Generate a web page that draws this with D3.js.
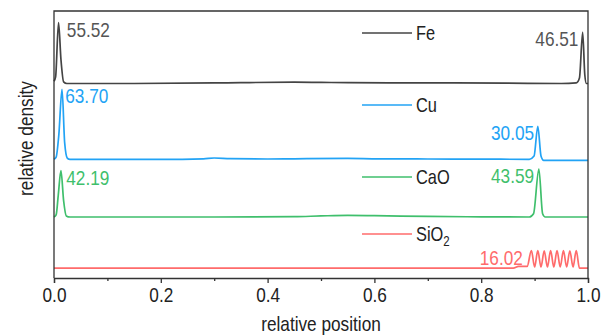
<!DOCTYPE html>
<html>
<head>
<meta charset="utf-8">
<script src="https://cdn.jsdelivr.net/npm/d3@7"></script>
<style>
  body { margin: 0; background: #fff; }
  svg text { font-family: "Liberation Sans", Arial, sans-serif; }
</style>
</head>
<body>
<svg width="610" height="335"></svg>
<script>
// series names, colours and peak labels
const names = ["Fe", "Cu", "CaO", "SiO2"];
const colors = ["#444444", "#22a3f5", "#3fbf6c", "#ff6b6b"];
// vertical offset of each curve (density units)
const offsets = [177, 108, 55.5, 9];

// [relative position, relative density]
const fe = [[0, 2], [0.003, 6], [0.0085, 55.52], [0.013, 22], [0.018, 1.5], [0.024, 0], [0.15, 0], [0.3, 0.5],
  [0.35, 0.8], [0.45, 1.2], [0.5, 1.0], [0.55, 0.8], [0.65, 0.6], [0.75, 0.5], [0.85, 0.3], [0.95, 0],
  [0.978, 0.5], [0.984, 5], [0.99, 46.51], [0.994, 8], [0.997, 0], [1.0, 0]];
const cu = [[0, 0], [0.004, 2], [0.009, 22], [0.015, 63.70], [0.02, 15], [0.025, 1], [0.03, 0], [0.2, 0],
  [0.28, 0.5], [0.3, 1.2], [0.33, 0.6], [0.4, 0.3], [0.45, 0.5], [0.55, 0.8], [0.6, 0.5], [0.7, 0.3],
  [0.8, 0.2], [0.89, 0], [0.899, 3], [0.906, 30.05], [0.912, 3], [0.917, -1], [1.0, -1]];
const cao = [[0, 0], [0.004, 2], [0.008, 20], [0.013, 42.19], [0.018, 15], [0.023, 1], [0.03, 0], [0.3, 0],
  [0.45, 0.3], [0.5, 1], [0.55, 1.5], [0.6, 1.2], [0.65, 0.8], [0.7, 0.5], [0.8, 0.2], [0.89, 0],
  [0.898, 3], [0.908, 43.59], [0.915, 3], [0.92, 0], [1.0, 0]];
const sio2 = [[0, 0], [0.86, 0], [0.87, 1.5], [0.886, 1.5], [0.894, 16.02], [0.9, 1], [0.906, 16], [0.912, 1],
  [0.918, 15.8], [0.924, 1], [0.93, 16], [0.936, 1], [0.942, 15.9], [0.948, 1], [0.954, 16.02], [0.96, 1],
  [0.966, 15.8], [0.972, 1], [0.978, 16], [0.984, 0], [1.0, 0]];
const seriesData = [fe, cu, cao, sio2];

// peak labels: [series index, x of anchor, value, side]
const peakLabels = [
  [0, 0.024, "55.52", "start"], [0, 0.982, "46.51", "end"],
  [1, 0.021, "63.70", "start"], [1, 0.899, "30.05", "end"],
  [2, 0.023, "42.19", "start"], [2, 0.899, "43.59", "end"],
  [3, 0.878, "16.02", "end"]
];
const xTicks = [0, 0.2, 0.4, 0.6, 0.8, 1.0];
const xMinor = [0.1, 0.3, 0.5, 0.7, 0.9];

const svg = d3.select("svg");
const margin = {top: 11, right: 22, bottom: 57, left: 54};
const width = 610 - margin.left - margin.right;
const height = 335 - margin.top - margin.bottom;

const x = d3.scaleLinear().domain([0, 1]).range([margin.left, margin.left + width]);
const y = d3.scaleLinear().domain([0, 243]).range([margin.top + height, margin.top]);

// the original uses a narrow sans face, so squeeze text horizontally
const narrow = 0.82;
function squeeze(sel, extra) {
  sel.each(function () {
    const t = d3.select(this);
    const tx = +t.attr("x") || 0, ty = +t.attr("y") || 0;
    t.attr("x", 0).attr("y", 0)
      .attr("transform", `translate(${tx},${ty}) ${extra || ""} scale(${narrow},1)`);
  });
}

const line = d3.line()
  .x(d => x(d[0]))
  .y(d => y(d[1]))
  .curve(d3.curveMonotoneX);

// curves
svg.append("g")
  .selectAll("path")
  .data(seriesData)
  .join("path")
  .attr("fill", "none")
  .attr("stroke", (d, i) => colors[i])
  .attr("stroke-width", 1.7)
  .attr("d", (d, i) => line(d.map(p => [p[0], p[1] + offsets[i]])));

// peak labels
svg.append("g")
  .selectAll("text")
  .data(peakLabels)
  .join("text")
  .attr("x", d => x(d[1]))
  .attr("y", d => y(offsets[d[0]] + +d[2]) + 14)
  .attr("text-anchor", d => d[3])
  .attr("font-size", 21)
  .attr("fill", d => d[0] === 0 ? "#555" : colors[d[0]])
  .text(d => d[2])
  .call(squeeze);

// legend
const legendY = [33, 105, 177, 234];
const legend = svg.append("g")
  .selectAll("g")
  .data(names)
  .join("g")
  .attr("transform", (d, i) => `translate(362,${legendY[i]})`);
legend.append("line")
  .attr("x1", 0).attr("x2", 50)
  .attr("stroke", (d, i) => colors[i])
  .attr("stroke-width", 1.6);
legend.append("text")
  .attr("x", 54)
  .attr("y", 7)
  .attr("font-size", 20)
  .attr("fill", "#222")
  .each(function (d) {
    const t = d3.select(this);
    if (d === "SiO2") {
      t.append("tspan").text("SiO");
      t.append("tspan").attr("font-size", 14).attr("dy", 5).text("2");
    } else {
      t.text(d);
    }
  })
  .call(squeeze);

// axes
const xAxis = svg.append("g")
  .attr("transform", `translate(0,${margin.top + height})`)
  .call(d3.axisBottom(x).tickValues(xTicks).tickFormat(d3.format(".1f")).tickSize(5).tickPadding(4));
xAxis.selectAll("text")
  .attr("font-size", 21)
  .attr("fill", "#222")
  .attr("transform", `scale(${narrow},1)`);
svg.append("g")
  .attr("transform", `translate(0,${margin.top + height})`)
  .call(d3.axisBottom(x).tickValues(xMinor).tickFormat("").tickSize(3))
  .select(".domain").remove();
svg.selectAll(".tick line, .domain").attr("stroke", "#333").attr("stroke-width", 1.3);

// frame: left, top, right
svg.append("path")
  .attr("d", `M${margin.left},${margin.top + height}V${margin.top}H${margin.left + width}V${margin.top + height}`)
  .attr("fill", "none")
  .attr("stroke", "#333")
  .attr("stroke-width", 1.3);

// axis titles
svg.append("text")
  .attr("x", margin.left + width / 2)
  .attr("y", 331)
  .attr("text-anchor", "middle")
  .attr("font-size", 21)
  .attr("fill", "#222")
  .text("relative position")
  .call(squeeze);
svg.append("text")
  .attr("x", 33)
  .attr("y", margin.top + height / 2 - 6)
  .attr("text-anchor", "middle")
  .attr("font-size", 21)
  .attr("fill", "#222")
  .text("relative density")
  .call(squeeze, "rotate(-90)");
</script>
</body>
</html>
